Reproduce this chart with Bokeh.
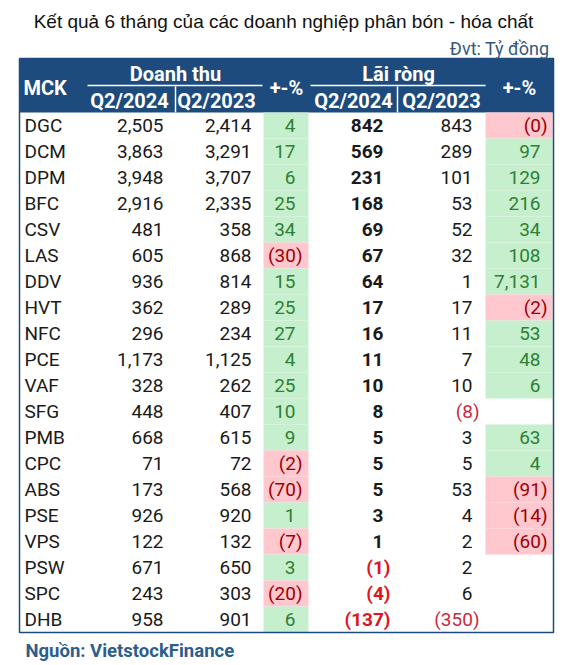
from bokeh.plotting import figure
from bokeh.models import ColumnDataSource, Range1d
from bokeh.core.properties import value
from bokeh.embed import file_html
from bokeh.resources import INLINE

# ---------------- data ----------------
tickers = ["DGC", "DCM", "DPM", "BFC", "CSV", "LAS", "DDV", "HVT", "NFC", "PCE",
           "VAF", "SFG", "PMB", "CPC", "ABS", "PSE", "VPS", "PSW", "SPC", "DHB"]
rev_2024 = [2505, 3863, 3948, 2916, 481, 605, 936, 362, 296, 1173,
            328, 448, 668, 71, 173, 926, 122, 671, 243, 958]
rev_2023 = [2414, 3291, 3707, 2335, 358, 868, 814, 289, 234, 1125,
            262, 407, 615, 72, 568, 920, 132, 650, 303, 901]
rev_chg = [4, 17, 6, 25, 34, -30, 15, 25, 27, 4,
           25, 10, 9, -2, -70, 1, -7, 3, -20, 6]
np_2024 = [842, 569, 231, 168, 69, 67, 64, 17, 16, 11,
           10, 8, 5, 5, 5, 3, 1, -1, -4, -137]
np_2023 = [843, 289, 101, 53, 52, 32, 1, 17, 11, 7,
           10, -8, 3, 5, 53, 4, 2, 2, 6, -350]
np_chg = [-0.1, 97, 129, 216, 34, 108, 7131, -2, 53, 48,
          6, None, 63, 4, -91, -14, -60, None, None, None]

title_text = "Kết quả 6 tháng của các doanh nghiệp phân bón - hóa chất"
unit_text = "Đvt: Tỷ đồng"
source_text = "Nguồn: VietstockFinance"
ticker_label = "MCK"
group_labels = ["Doanh thu", "Lãi ròng"]
period_labels = ["Q2/2024", "Q2/2023"]
chg_label = "+-%"

# ---------------- styling / layout ----------------
NAVY = "#1d4b7e"
GREEN_FILL, GREEN_TXT = "#c6efce", "#2f8034"
RED_FILL, RED_TXT = "#ffc7ce", "#9c0006"
NEG_RED = "#e0141e"
NEG_RED2 = "#cc2a3c"
TXT = "#1a1a1a"
FONT = value("Roboto")

X0, X1 = 19, 553
HEAD_TOP, HEAD_BOT = 58, 112
ROW_H = 26
PAD = 7
col_right = [170, 258, 302, 390, 479, 547]


def fmt(v):
    if v is None:
        return ""
    if v < 0:
        return "(" + f"{abs(v):,.0f}" + ")"
    return f"{v:,.0f}"


def xpos(v, right):
    if v is None:
        return right
    return right if v < 0 else right - PAD


p = figure(width=576, height=665, x_range=Range1d(0, 576), y_range=Range1d(665, 0),
           output_backend="svg", toolbar_location=None, min_border=0)
p.axis.visible = False
p.grid.visible = False
p.outline_line_color = None
p.background_fill_color = "white"
p.border_fill_color = "white"

n = len(tickers)
row_top = [HEAD_BOT + ROW_H * i for i in range(n)]
row_mid = [t + ROW_H / 2 for t in row_top]

# header band
p.quad(left=[X0], right=[X1], top=[HEAD_TOP], bottom=[HEAD_BOT],
       fill_color=NAVY, line_color=None)

# conditional fills
def fills(vals, left, right):
    src = dict(left=[], right=[], top=[], bottom=[], color=[])
    for v, t in zip(vals, row_top):
        if v is None:
            continue
        src["left"].append(left)
        src["right"].append(right)
        src["top"].append(t)
        src["bottom"].append(t + ROW_H)
        src["color"].append(RED_FILL if v < 0 else GREEN_FILL)
    p.quad(left="left", right="right", top="top", bottom="bottom", fill_color="color",
           line_color=None, source=ColumnDataSource(src))

fills(rev_chg, 263, 308)
fills(np_chg, 485, 552)

# frame
p.quad(left=[X0], right=[X1], top=[HEAD_TOP], bottom=[HEAD_BOT + ROW_H * n],
       fill_color=None, line_color=NAVY, line_width=1.5)

# header lines
p.segment(x0=[87, 310], y0=[85, 85], x1=[262, 485], y1=[85, 85], line_color="white", line_width=1.5)
p.segment(x0=[175, 397], y0=[86, 86], x1=[175, 397], y1=[HEAD_BOT, HEAD_BOT],
          line_color="white", line_width=1.5)

# header texts
hdr = dict(
    x=[23, 175, 398, 129, 216, 353, 441, 286, 519],
    y=[87, 73, 73, 100, 100, 100, 100, 87, 87],
    text=[ticker_label, group_labels[0], group_labels[1], period_labels[0], period_labels[1],
          period_labels[0], period_labels[1], chg_label, chg_label],
    align=["left", "center", "center", "center", "center", "center", "center", "center", "center"],
)
p.text(x="x", y="y", text="text", text_align="align", source=ColumnDataSource(hdr),
       text_font=FONT, text_font_style="bold", text_font_size="20px",
       text_color="white", text_baseline="middle")

# body: tickers
p.text(x=[24] * n, y=row_mid, text=tickers, text_font=FONT, text_font_size="19px",
       text_color=TXT, text_baseline="middle", text_align="left")


def column(vals, right, colors, style):
    src = dict(x=[xpos(v, right) for v in vals], y=row_mid, text=[fmt(v) for v in vals],
               color=colors)
    p.text(x="x", y="y", text="text", text_color="color", source=ColumnDataSource(src),
           text_font=FONT, text_font_size="19px", text_font_style=style,
           text_baseline="middle", text_align="right")


column(rev_2024, col_right[0], [TXT] * n, "normal")
column(rev_2023, col_right[1], [TXT] * n, "normal")
column(rev_chg, col_right[2], [RED_TXT if v < 0 else GREEN_TXT for v in rev_chg], "normal")
column(np_2024, col_right[3], [NEG_RED if v < 0 else TXT for v in np_2024], "bold")
column(np_2023, col_right[4], [NEG_RED2 if v < 0 else TXT for v in np_2023], "normal")
column(np_chg, col_right[5], [RED_TXT if (v is not None and v < 0) else GREEN_TXT for v in np_chg], "normal")

# title, unit, source
p.text(x=[283], y=[21], text=[title_text], text_font=value("Liberation Sans"),
       text_font_size="19px", text_color="#111111", text_align="center", text_baseline="middle")
p.text(x=[549], y=[48], text=[unit_text], text_font=FONT, text_font_size="18px",
       text_color="#34597f", text_align="right", text_baseline="middle")
p.text(x=[25], y=[650], text=[source_text], text_font=FONT, text_font_size="18.5px",
       text_font_style="bold", text_color="#2d5d8c", text_align="left", text_baseline="middle")

open("out.html", "w").write(file_html(p, INLINE))
